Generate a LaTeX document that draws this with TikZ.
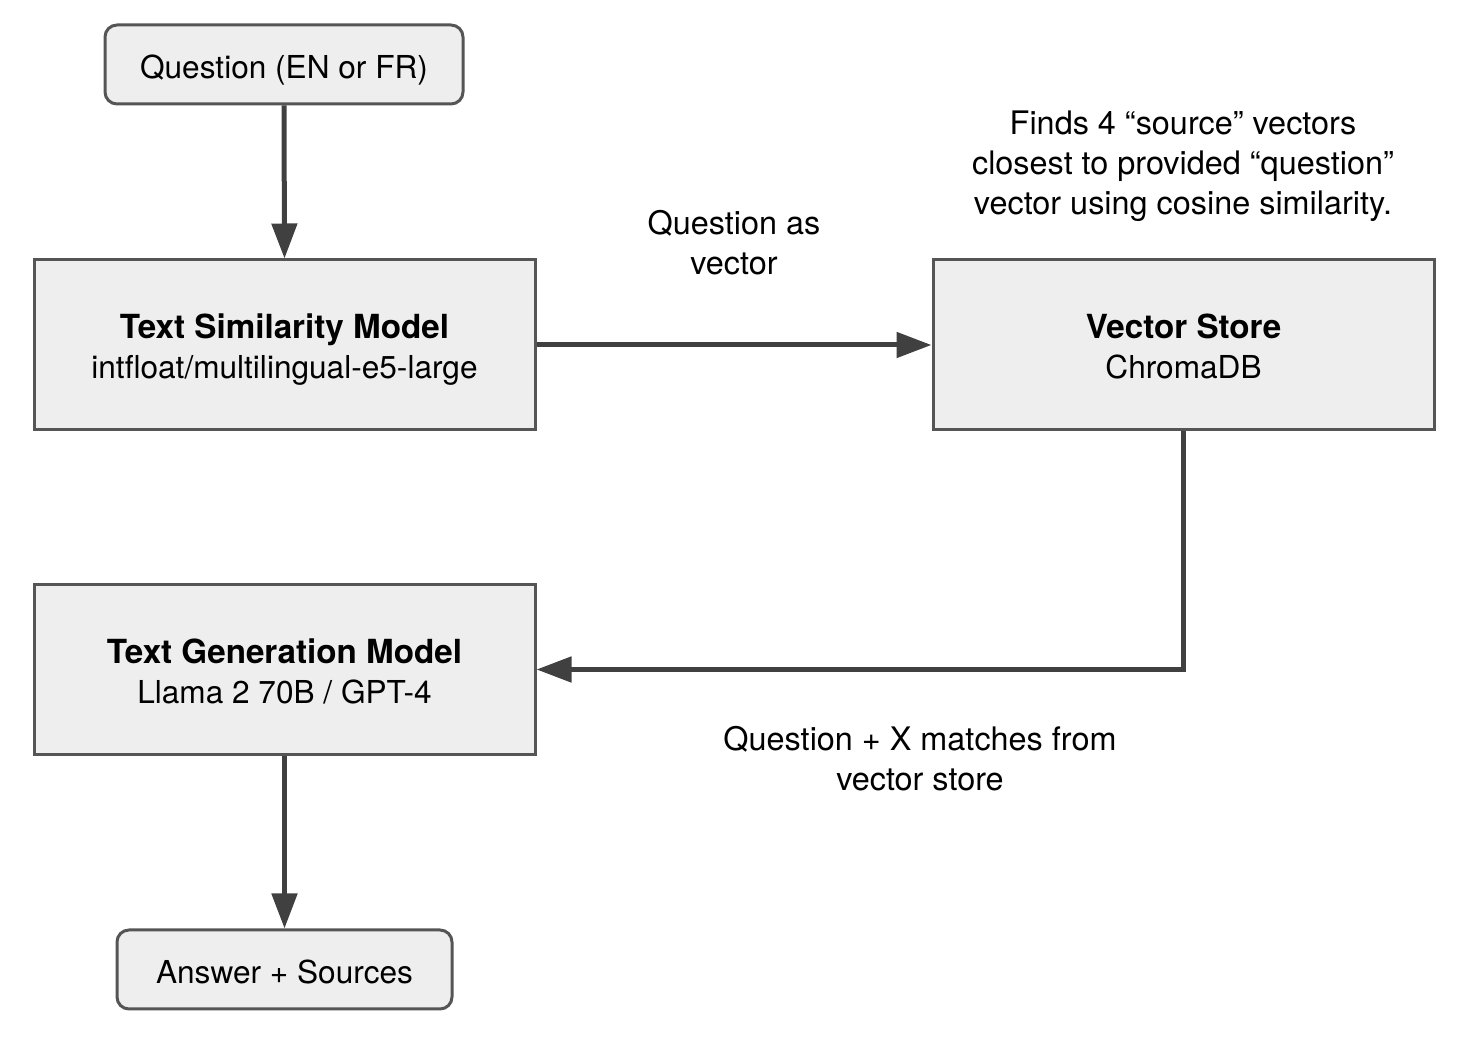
\documentclass[tikz,border=0pt]{standalone}
\usepackage{fontspec}
\setmainfont{TeX Gyre Heros}
\usetikzlibrary{arrows.meta}
\definecolor{boxfill}{HTML}{EEEEEE}
\definecolor{boxline}{HTML}{555555}
\definecolor{arrowcol}{HTML}{404040}
\newcommand{\ttl}[1]{{\fontsize{16.6pt}{20pt}\selectfont\bfseries #1}}
\newcommand{\lowered}[1]{\raisebox{-2.8pt}[\height][\depth]{\begin{tabular}{@{}c@{}}#1\end{tabular}}}
\tikzset{
  base/.style={draw=boxline, line width=1.5pt, fill=boxfill, align=center, inner sep=0pt,
    font=\fontsize{15.8pt}{20pt}\selectfont},
  roundbox/.style={base, rounded corners=6pt},
  bigbox/.style={base, minimum width=250.5pt, minimum height=85pt},
  conn/.style={draw=arrowcol, line width=2.5pt, -{Triangle[length=17.5pt,width=12.5pt]}},
  lbl/.style={align=center, inner sep=0pt, font=\fontsize{16.2pt}{20pt}\selectfont}
}
\begin{document}
\begin{tikzpicture}[x=0.5pt,y=-0.5pt]
\useasboundingbox (0,0) rectangle (1468,1052);
\node[roundbox, minimum width=179pt, minimum height=39.5pt] (q) at (284,64.5) {\lowered{Question (EN or FR)}};
\node[bigbox] (tsm) at (284.5,345) {\lowered{\ttl{Text Similarity Model}\\intfloat/multilingual-e5-large}};
\node[bigbox] (vs) at (1183.5,345) {\lowered{\ttl{Vector Store}\\ChromaDB}};
\node[bigbox] (tgm) at (284.5,669.5) {\lowered{\ttl{Text Generation Model}\\Llama 2 70B / GPT-4}};
\node[roundbox, minimum width=167.5pt, minimum height=39.5pt] (ans) at (284.5,969.5) {\lowered{Answer + Sources}};
\node[lbl] (l1) at (734,243) {Question as\\vector};
\node[lbl] (l2) at (1183,166) {Finds 4 “source” vectors\\closest to provided “question”\\vector using cosine similarity.};
\node[lbl] (l3) at (920,759) {Question + X matches from\\vector store};
\draw[conn] (q.south) -- (tsm.north);
\draw[conn] (tsm.east) -- (vs.west);
\draw[conn] (vs.south) |- (tgm.east);
\draw[conn] (tgm.south) -- (ans.north);
\end{tikzpicture}
\end{document}
